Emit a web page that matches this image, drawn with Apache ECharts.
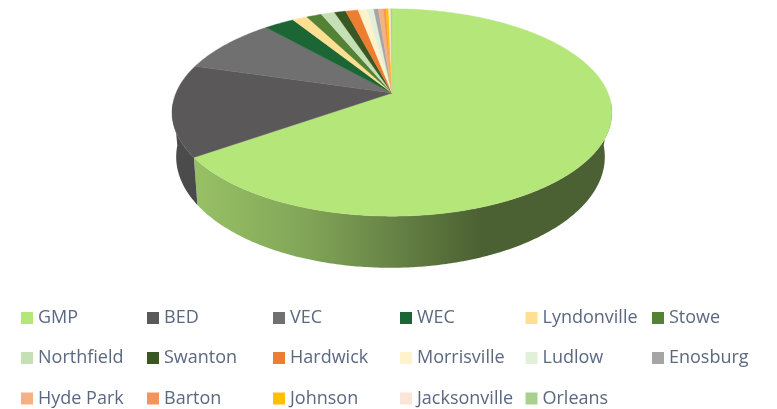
<!DOCTYPE html>
<html><head><meta charset="utf-8">
<style>html,body{margin:0;padding:0;background:#fff}#c{width:777px;height:409px}</style>
<script src="https://cdn.jsdelivr.net/npm/echarts@6/dist/echarts.min.js"></script>
</head><body><div id="c"></div>
<script>
const names = ['GMP','BED','VEC','WEC','Lyndonville','Stowe','Northfield','Swanton','Hardwick','Morrisville','Ludlow','Enosburg','Hyde Park','Barton','Johnson','Jacksonville','Orleans'];
const values = [65.3,14.3,8.9,2.67,1.3,1.33,1.2,1.0,1.1,0.78,0.6,0.4,0.45,0.2,0.25,0.2,0.1];
const colors = ['#b5e67a','#5a5859','#707070','#1c6636','#ffdf91','#548235','#c5e0b4','#385723','#ed7d31','#fff2cc','#e2f0d9','#a5a5a5','#f4b183','#f4945a','#ffc000','#fbe5d6','#a9d18e'];
const legendColumns = [21,147,273,400,525.5,652];
const legendRows = [309,349,389.5];

const total = values.reduce((a,b)=>a+b,0);
const K = 0.188;
const TOP = {cx:392, rx:216, ry:100, y0:93};
const BOTTOM = {cx:390.5, rx:210.5, ry:107, y0:136};
const FRONT = [95*Math.PI/180, 265*Math.PI/180];
function project(ring, ang){
  const u = Math.sin(ang), v = -Math.cos(ang), s = 1/(1-K*v);
  return [ring.cx + ring.rx*u*s, ring.y0 + ring.ry*v*s];
}
const starts = [];
values.reduce((acc,v,i)=>{starts[i]=acc;return acc+v;},0);
function range(i){
  const a = starts[i]/total*2*Math.PI, b = (starts[i]+values[i])/total*2*Math.PI;
  return [a,b];
}
function arc(ring,a,b){
  const n = Math.max(2,Math.ceil((b-a)/0.01)), pts=[];
  for(let j=0;j<=n;j++) pts.push(project(ring,a+(b-a)*j/n));
  return pts;
}
function shade(hex,f){
  const n=parseInt(hex.slice(1),16);
  const c=[n>>16,(n>>8)&255,n&255].map(x=>Math.round(x*f));
  return 'rgb('+c.join(',')+')';
}
function wallFill(hex){
  return new echarts.graphic.LinearGradient(172,0,612,0,[
    {offset:0,color:shade(hex,0.86)},
    {offset:0.3,color:shade(hex,0.72)},
    {offset:0.7,color:shade(hex,0.42)},
    {offset:1,color:shade(hex,0.42)}],true);
}
const chart = echarts.init(document.getElementById('c'),null,{renderer:'canvas'});
const wallSeries = {
  type:'custom',coordinateSystem:'none',silent:true,z:1,
  data:names.map((n,i)=>[values[i]]),
  renderItem(params){
    const i=params.dataIndex,r=range(i);
    const a=Math.max(r[0],FRONT[0]),b=Math.min(r[1],FRONT[1]);
    if(b<=a) return null;
    const pts=arc(TOP,a,b).concat(arc(BOTTOM,a,b).reverse());
    return {type:'polygon',shape:{points:pts},style:{fill:wallFill(colors[i])}};
  }
};
const topSeries = names.map((name,i)=>({
  name,type:'custom',coordinateSystem:'none',silent:true,z:2,
  itemStyle:{color:colors[i]},
  data:[[values[i]]],
  renderItem(){
    const [a,b]=range(i);
    const pts=[[TOP.cx,TOP.y0]].concat(arc(TOP,a,b));
    return {type:'polygon',shape:{points:pts},style:{fill:colors[i],stroke:colors[i],lineWidth:0.4}};
  }
}));
const legends = names.map((name,i)=>({
  data:[{name,itemStyle:{color:colors[i]}}],
  left:legendColumns[i%6],top:legendRows[Math.floor(i/6)],
  padding:0,orient:'horizontal',icon:'rect',itemWidth:12,itemHeight:12,selectedMode:false,
  textStyle:{color:'#5a6880',fontFamily:'Open Sans',fontSize:18,lineHeight:12,padding:[0,0,0,0]}
}));
chart.setOption({animation:false,backgroundColor:'#fff',legend:legends,series:[wallSeries].concat(topSeries)});
</script></body></html>
